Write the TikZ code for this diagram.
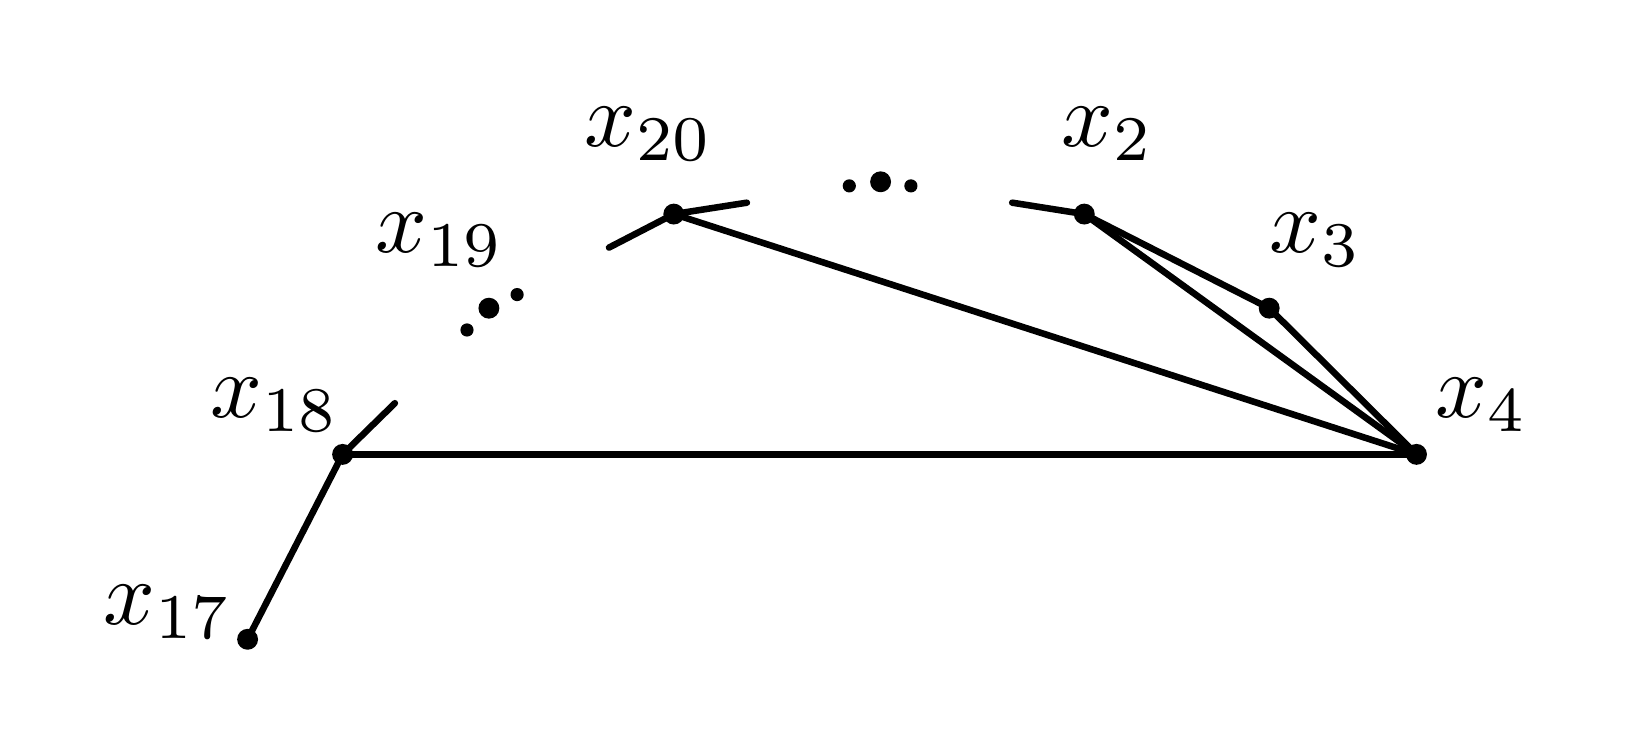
\documentclass[tikz,border=0pt]{standalone}
\begin{document}
\begin{tikzpicture}[x=0.11pt,y=-0.11pt,
  edge/.style={line width=0.72pt,line cap=round},
  vdot/.style={circle,fill=black,inner sep=0pt,minimum size=2.3pt},
  bigdot/.style={circle,fill=black,inner sep=0pt,minimum size=2.3pt},
  smalldot/.style={circle,fill=black,inner sep=0pt,minimum size=1.45pt},
  lab/.style={inner sep=0pt,font=\normalsize}]
\useasboundingbox (0,0) rectangle (1638,750);
\coordinate (v17) at (247.6,639.3);
\coordinate (v18) at (342.6,454.4);
\coordinate (v20) at (673.8,214.1);
\coordinate (v2) at (1084.3,214.1);
\coordinate (v3) at (1269.2,308.2);
\coordinate (v4) at (1416.5,454.4);
\coordinate (s18) at (394.9,403.2);
\coordinate (s20a) at (609.0,247.6);
\coordinate (s20b) at (746.9,202.7);
\coordinate (s2) at (1012.2,202.7);
\draw[edge] (v17) -- (v18);
\draw[edge] (v18) -- (s18);
\draw[edge] (v18) -- (v4);
\draw[edge] (s20a) -- (v20) -- (s20b);
\draw[edge] (v20) -- (v4);
\draw[edge] (s2) -- (v2);
\draw[edge] (v2) -- (v3);
\draw[edge] (v2) -- (v4);
\draw[edge] (v3) -- (v4);
\foreach \v in {v17,v18,v20,v2,v3,v4} \node[vdot] (d\v) at (\v) {};
\node[smalldot] (e1) at (467,330) {};
\node[bigdot] (e2) at (488.9,308.2) {};
\node[smalldot] (e3) at (517.1,294.6) {};
\node[smalldot] (f1) at (849.3,185.9) {};
\node[bigdot] (f2) at (880.6,181.8) {};
\node[smalldot] (f3) at (910.9,185.9) {};
\node[lab] (l20) at (649,134) {$x_{20}$};
\node[lab] (l19) at (440,240) {$x_{19}$};
\node[lab] (l18) at (275,405) {$x_{18}$};
\node[lab] (l17) at (168,612) {$x_{17}$};
\node[lab] (l2) at (1108,134) {$x_{2}$};
\node[lab] (l3) at (1316,240) {$x_{3}$};
\node[lab] (l4) at (1482,405) {$x_{4}$};
\end{tikzpicture}
\end{document}
